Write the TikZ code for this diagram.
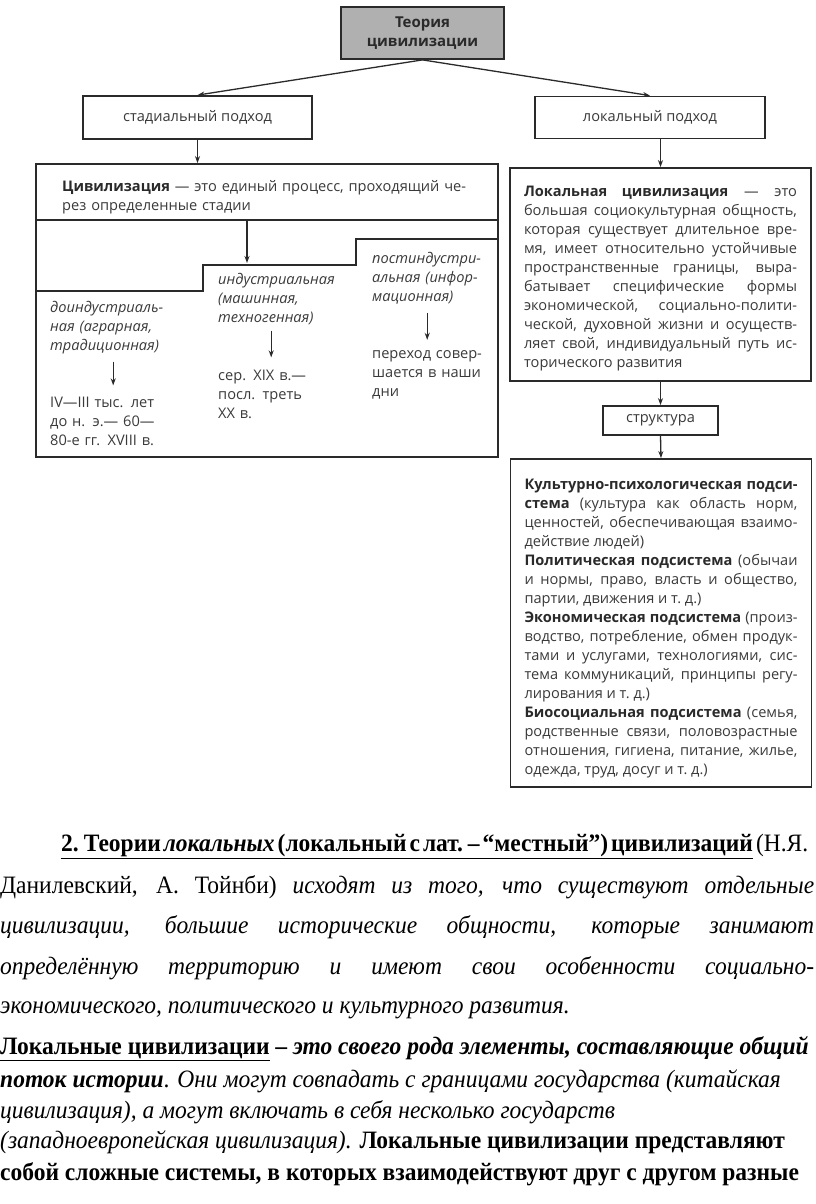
\documentclass[tikz,border=0pt]{standalone}
\usepackage{fontspec}
\setmainfont{Liberation Serif}
\newfontfamily\diagfont{Open Sans}
\newfontfamily\bodyfont[FakeStretch=0.94]{Liberation Serif}
\usetikzlibrary{arrows.meta, positioning}

\definecolor{inkc}{HTML}{2A2A2A}
\definecolor{textc}{HTML}{3A3A3A}
\definecolor{headfill}{HTML}{B0B0B0}
\newcommand{\keyw}[1]{\textbf{\color{inkc}#1}}

\hyphenpenalty=10000
\exhyphenpenalty=10000
\tolerance=9999

\begin{document}
\begin{tikzpicture}[x=1pt, y=-1pt,
    box/.style={draw=inkc, line width=1.8pt, fill=white, inner sep=0pt,
      font=\diagfont\fontsize{14.6}{19}\selectfont, text=textc},
    link/.style={draw=inkc, line width=1.3pt, -{Stealth[length=7pt, width=5pt]}},
    stage/.style={font=\diagfont\fontsize{14.6}{19}\selectfont, text=textc,
      inner sep=0pt, anchor=base west, align=left},
    body/.style={font=\bodyfont\fontsize{25}{30}\selectfont, inner sep=0pt, anchor=base west}]
  \useasboundingbox[fill=white] (0,0) rectangle (816,1204);

  % Header and the two approaches
  \node[box, fill=headfill, minimum width=163pt, minimum height=52pt, align=center,
    font=\diagfont\bfseries\fontsize{15}{19}\selectfont, text=inkc] (theory) at (422.5,33) {Теория\\цивилизации};
  \node[box, minimum width=229pt, minimum height=43pt] (stadial) at (197.5,117.5) {стадиальный подход};
  \node[box, minimum width=230pt, minimum height=42pt] (local) at (650,117.5) {локальный подход};
  \draw[link] (theory.south) -- (stadial.north);
  \draw[link] (theory.south) -- (local.north);

  % Stadial approach: one box cut into steps
  \node[box, minimum width=462pt, minimum height=293pt] (stadbox) at (267,310.5) {};
  \draw[link] (stadial.south) -- (stadial.south |- stadbox.north);
  \node[stage, text width=420pt] (stadef) at (62,191)
    {\keyw{Цивилизация} — это единый процесс, проходящий че-\\рез определенные стадии};
  \draw[inkc, line width=1.8pt] (36,220) -- (498,220);
  \draw[inkc, line width=1.8pt] (36,291) -| (203,265) -| (356,239) -- (498,239);
  \coordinate (fork) at (247,220);
  \coordinate (forkend) at (247,263);
  \draw[link] (fork) -- (forkend);

  % Stages
  \node[stage, text width=126pt] (preind) at (50,312) {\itshape доиндустриаль-\\ная (аграрная,\\традиционная)};
  \node[stage, text width=126pt] (predate) at (50,407) {IV—III тыс. лет\\до н. э.— 60—\\80-е гг. XVIII в.};
  \draw[link] ([yshift=-8pt]preind.south) -- ([yshift=11pt]predate.north);

  \node[stage, text width=106pt] (ind) at (218,284) {\itshape индустриальная\\(машинная,\\техногенная)};
  \node[stage, text width=106pt] (inddate) at (218,380) {сер. XIX в.—\\посл. треть\\XX в.};
  \draw[link] ([yshift=-6pt]ind.south) -- ([yshift=12pt]inddate.north);

  \node[stage, text width=110pt] (postind) at (372,263) {\itshape постиндустри-\\альная (инфор-\\мационная)};
  \node[stage, text width=110pt] (postdate) at (372,358) {переход совер-\\шается в наши\\дни};
  \draw[link] ([yshift=-9pt]postind.south) -- ([yshift=10pt]postdate.north);

  % Local approach
  \node[box, text width=273pt, inner xsep=14pt, minimum height=213pt, align=justify] (localdef) at (660.5,274.5)
    {\keyw{Локальная\quad цивилизация} — это\linebreak
     большая социокультурная общность,\linebreak
     которая существует длительное вре-\linebreak
     мя, имеет относительно устойчивые\linebreak
     пространственные границы, выра-\linebreak
     батывает специфические формы\linebreak
     экономической, социально-полити-\linebreak
     ческой, духовной жизни и осуществ-\linebreak
     ляет свой, индивидуальный путь ис-\linebreak
     торического развития\par\vspace{-9pt}};
  \node[box, minimum width=115pt, minimum height=29pt] (struct) at (660.5,420.5) {структура};
  \node[box, text width=273pt, inner xsep=14pt, minimum height=328pt, align=justify] (subsys) at (661,623)
    {\keyw{Культурно-психологическая подси-}\linebreak
     \keyw{стема} (культура как область норм,\linebreak
     ценностей, обеспечивающая взаимо-\linebreak
     действие людей)\\
     \keyw{Политическая подсистема} (обычаи\linebreak
     и нормы, право, власть и общество,\linebreak
     партии, движения и т.~д.)\\
     \keyw{Экономическая подсистема} (произ-\linebreak
     водство, потребление, обмен продук-\linebreak
     тами и услугами, технологиями, сис-\linebreak
     тема коммуникаций, принципы регу-\linebreak
     лирования и т.~д.)\\
     \keyw{Биосоциальная подсистема} (семья,\linebreak
     родственные связи, половозрастные\linebreak
     отношения, гигиена, питание, жилье,\linebreak
     одежда, труд, досуг и т.~д.)\par\vspace{-11pt}};
  \draw[link] (local.south -| localdef.north) -- (localdef.north);
  \draw[link] (localdef.south) -- (struct.north);
  \draw[link] (struct.south) -- (subsys.north);

  % Text below the scheme
  \node[body] (para1a) at (61,851) {\spaceskip=3pt plus 1pt\textbf{\underline{2. Теории \textit{локальных} (локальный с лат. – “местный”) цивилизаций}} (Н.Я.};
  \node[body] (para1b) at (0,893) {\makebox[814pt][s]{Данилевский, А. Тойнби) \textit{исходят из того, что существуют отдельные}}};
  \node[body] (para1c) at (0,933) {\makebox[814pt][s]{\textit{цивилизации, большие исторические общности, которые занимают}}};
  \node[body] (para1d) at (0,974) {\makebox[814pt][s]{\textit{определённую территорию и имеют свои особенности социально-}}};
  \node[body] (para1e) at (0,1013) {\textit{экономического, политического и культурного развития.}};

  \node[body] (para2a) at (0,1054) {\textbf{\underline{Локальные цивилизации}} \textbf{\textit{– это своего рода элементы, составляющие общий}}};
  \node[body] (para2b) at (0,1087) {\textbf{\textit{поток истории}}. \textit{Они могут совпадать с границами государства (китайская}};
  \node[body] (para2c) at (0,1118) {\textit{цивилизация), а могут включать в себя несколько государств}};
  \node[body] (para2d) at (0,1148) {\textit{(западноевропейская цивилизация).} \textbf{Локальные цивилизации представляют}};
  \node[body] (para2e) at (0,1180) {\textbf{собой сложные системы, в которых взаимодействуют друг с другом разные}};
\end{tikzpicture}
\end{document}
